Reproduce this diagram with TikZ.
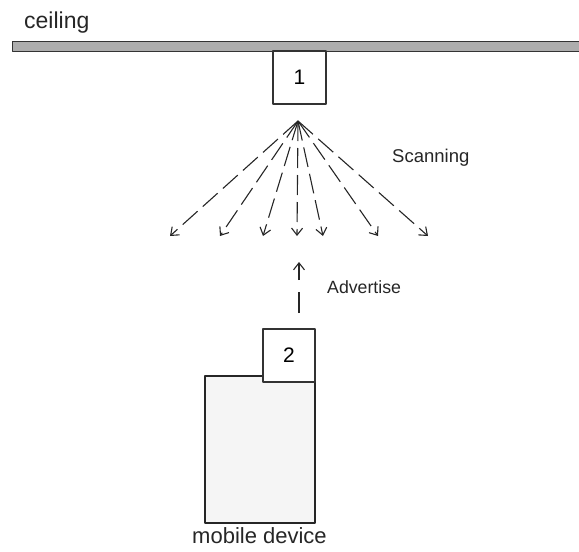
\documentclass[tikz,border=0pt]{standalone}
\usepackage{fontspec}
\setmainfont{Liberation Sans}
\usetikzlibrary{arrows.meta}

\begin{document}
\begin{tikzpicture}[
    x = 1pt, y = -1pt,
    line join=round,
    tag/.style = {draw=black!80, fill=white, line width=1.1pt, inner sep=0pt,
        minimum width=53pt, minimum height=53pt, font=\fontsize{21}{24}\selectfont},
    beam/.style = {draw=black!85, line width=1.1pt, dash pattern=on 20pt off 7pt,
        -{Straight Barb[length=7pt, width=11pt]}},
    caption/.style = {text=black!85, inner sep=0pt}
]

\useasboundingbox (0, 0) rectangle (579, 552);

% ceiling
\draw[line width=1pt, draw=black!80, fill=black!32] (12, 41) rectangle (579, 51);
\node[caption, anchor=base west, font=\fontsize{23}{26}\selectfont] (ceil) at (24, 28) {ceiling};

\node[tag] (1) at (299.5, 77.5) {1};

\coordinate (src) at (298, 121);
\coordinate (t1) at (170, 236);
\coordinate (t2) at (220, 236);
\coordinate (t3) at (263, 236);
\coordinate (t4) at (297, 236);
\coordinate (t5) at (323, 236);
\coordinate (t6) at (378, 236);
\coordinate (t7) at (428, 236);

\draw[beam] (src) -- (t1);
\draw[beam] (src) -- (t2);
\draw[beam] (src) -- (t3);
\draw[beam] (src) -- (t4);
\draw[beam] (src) -- (t5);
\draw[beam] (src) -- (t6);
\draw[beam] (src) -- (t7);

\node[caption, anchor=base west, font=\fontsize{18.5}{22}\selectfont] (scan) at (392, 162) {Scanning};

% mobile device with its tag
\node[draw=black!85, fill=black!4, line width=1.1pt, minimum width=110pt, minimum height=147pt,
    inner sep=0pt] (phone) at (260, 449.5) {};
\node[tag, minimum width=52pt] (2) at (289, 355.5) {2};
\node[caption, anchor=base, font=\fontsize{22}{26}\selectfont] (dev) at (259.5, 543) {mobile device};

\coordinate (adv0) at (299, 313);
\coordinate (adv1) at (299, 262);
\draw[beam, dash pattern=on 21pt off 12pt] (adv0) -- (adv1);
\node[caption, anchor=base west, font=\fontsize{17.7}{21}\selectfont] (adv) at (327, 293) {Advertise};

\end{tikzpicture}
\end{document}
